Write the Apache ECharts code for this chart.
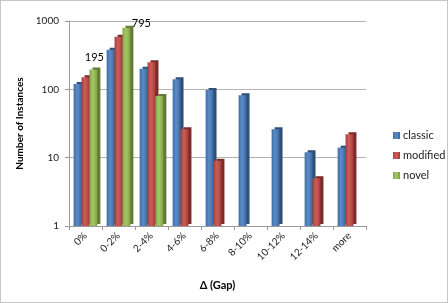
<!DOCTYPE html>
<html>
<head>
<meta charset="utf-8">
<script src="https://cdn.jsdelivr.net/npm/echarts@6/dist/echarts.min.js"></script>
<style>
html, body { margin: 0; padding: 0; background: #fff; }
#main { width: 448px; height: 303px; box-sizing: border-box; border: 1px solid #c6c6c6; }
</style>
</head>
<body>
<div id="main"></div>
<script>
// categories on x axis
var gapCats = ['0%', '0-2%', '2-4%', '4-6%', '6-8%', '8-10%', '10-12%', '12-14%', 'more'];
// values (log scale)
var classicVals = [120, 380, 200, 140, 98, 82, 26, 12, 14];
var modifiedVals = [150, 590, 250, 26, 9, 1, '-', 5, 22];
var novelVals = [195, 795, 80, 1, 1, '-', '-', '-', '-'];
var yTicks = [1, 10, 100, 1000];

var myChart = echarts.init(document.getElementById('main'));

function face(c1, c2, c3) {
    return {
        type: 'linear', x: 0, y: 0, x2: 1, y2: 0,
        colorStops: [
            { offset: 0, color: c1 },
            { offset: 0.45, color: c2 },
            { offset: 1, color: c3 }
        ]
    };
}

// novel gets labels on the two biggest bars
var novelData = novelVals.map(function (v, i) {
    if (i == 0) {
        return { value: v, label: { show: true, position: 'top', offset: [1, -2] } };
    }
    if (i == 1) {
        return { value: v, label: { show: true, position: 'top', offset: [15, 6] } };
    }
    return v;
});

var option = {
    animation: false,
    textStyle: { fontFamily: 'Lato, "Open Sans", sans-serif' },
    legend: {
        orient: 'vertical',
        left: 387,
        top: 124,
        itemWidth: 7,
        itemHeight: 7,
        itemGap: 9,
        icon: 'rect',
        textStyle: { fontSize: 11, color: '#222', padding: [0, 0, 0, -2] },
        data: ['classic', 'modified', 'novel']
    },
    grid: {
        left: 68,
        right: 81,
        top: 20,
        bottom: 76
    },
    xAxis: {
        type: 'category',
        data: gapCats,
        name: '\u0394 (Gap)',
        nameLocation: 'middle',
        nameGap: 54,
        nameTextStyle: { fontWeight: 'bold', fontSize: 11, color: '#000' },
        axisLine: { lineStyle: { color: '#9a9a9a' } },
        axisTick: { show: true, length: 4, lineStyle: { color: '#9a9a9a' } },
        axisLabel: { rotate: 45, fontSize: 10, color: '#222', margin: 8 }
    },
    yAxis: {
        type: 'log',
        logBase: 10,
        min: yTicks[0],
        max: yTicks[yTicks.length - 1],
        name: 'Number of Instances',
        nameLocation: 'middle',
        nameGap: 43,
        nameTextStyle: { fontWeight: 'bold', fontSize: 10, color: '#000' },
        axisLine: { show: true, lineStyle: { color: '#9a9a9a' } },
        axisTick: { show: true, length: 4, lineStyle: { color: '#9a9a9a' } },
        axisLabel: {
            fontSize: 10, color: '#222', margin: 10,
            formatter: function (v) { return String(Math.round(v)); }
        },
        splitLine: { lineStyle: { color: '#b4b4b4' } }
    },
    series: [
        {
            name: 'classic',
            type: 'bar',
            data: classicVals,
            barGap: '0%',
            barCategoryGap: '28%',
            itemStyle: {
                color: face('#3f6fa8', '#5b8cc8', '#3c679c'),
                shadowColor: '#2f4f78',
                shadowOffsetX: 3,
                shadowOffsetY: -2,
                shadowBlur: 0
            }
        },
        {
            name: 'modified',
            type: 'bar',
            data: modifiedVals,
            itemStyle: {
                color: face('#a9403d', '#cc5e5a', '#a23c39'),
                shadowColor: '#7c2b29',
                shadowOffsetX: 3,
                shadowOffsetY: -2,
                shadowBlur: 0
            }
        },
        {
            name: 'novel',
            type: 'bar',
            data: novelData,
            label: { show: false, fontSize: 11, color: '#000' },
            itemStyle: {
                color: face('#86a84a', '#a6c765', '#809f46'),
                shadowColor: '#617a34',
                shadowOffsetX: 3,
                shadowOffsetY: -2,
                shadowBlur: 0
            }
        }
    ],
    color: ['#4f81bd', '#c0504d', '#9bbb59']
};

myChart.setOption(option);
</script>
</body>
</html>
